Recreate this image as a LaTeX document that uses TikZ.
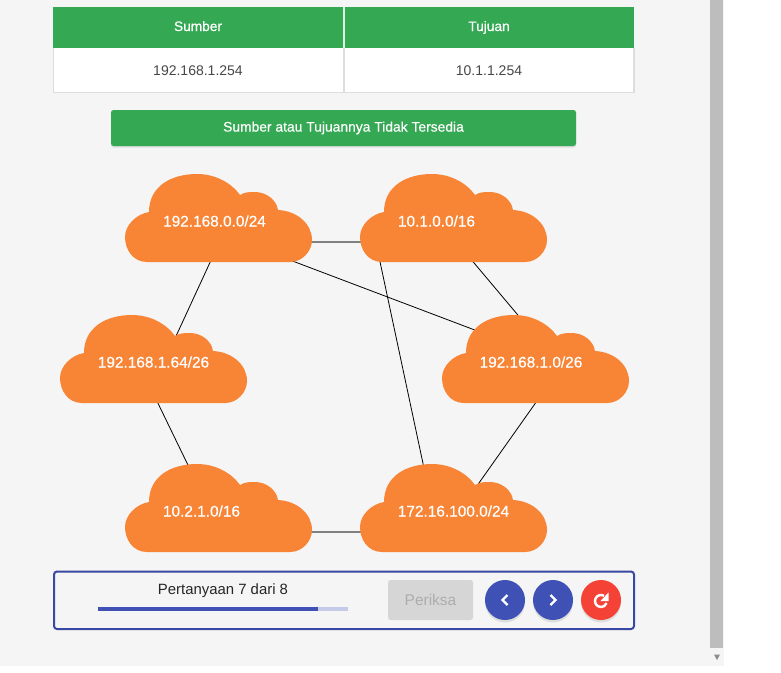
\documentclass[tikz,border=0pt]{standalone}
\usepackage{fontspec}
\setmainfont{Liberation Sans}
\newfontfamily\medfont[RawFeature={embolden=0.5}]{Liberation Sans}
\usetikzlibrary{calc, shadows, backgrounds, arrows.meta}

\definecolor{pagegray}{HTML}{F5F5F5}
\definecolor{headgreen}{HTML}{34A853}
\definecolor{cloudorange}{HTML}{F88435}
\definecolor{indigo}{HTML}{3F51B5}
\definecolor{indigolight}{HTML}{C5CAE9}
\definecolor{alertred}{HTML}{F44336}
\definecolor{rulegray}{HTML}{DDDDDD}
\definecolor{scrollgray}{HTML}{BDBDBD}

\tikzset{
	netcloud/.style={minimum width=187, minimum height=88, inner sep=0, outer sep=0,
		path picture={
			\fill[cloudorange] (-71.5,44) .. controls (-86,44) and (-93.5,31) .. (-93.5,19)
				.. controls (-93.5,7) and (-82,-4) .. (-69.5,-6)
				.. controls (-69.5,-32) and (-47,-44) .. (-21.5,-44)
				.. controls (-3,-44) and (13,-35) .. (21.5,-23)
				.. controls (26,-26) and (31,-26) .. (36.5,-26)
				.. controls (48,-26) and (58,-18) .. (59.5,-8)
				.. controls (79,-7) and (93.5,6) .. (93.5,22)
				.. controls (93.5,33) and (84,44) .. (71.5,44) -- cycle;
		}},
	netlabel/.style={text=white, font=\medfont\fontsize{15.4}{17}\selectfont},
	cloudlink/.style={black, line width=0.8},
	cloudlinkh/.style={black!50, line width=1.6},
	headcell/.style={text=white, text height=10, text depth=3, font=\medfont\fontsize{13.7}{16}\selectfont},
	bodycell/.style={text=black!72, font=\fontsize{14}{16}\selectfont},
	roundbtn/.style={circle, minimum size=40, inner sep=0, drop shadow={opacity=0.2, shadow xshift=0, shadow yshift=2.5}},
}

\begin{document}
\begin{tikzpicture}[x=1pt, y=-1pt]
	\useasboundingbox (0,0) rectangle (781,672);

	% page and scrollbar
	\begin{scope}[on background layer]
		\fill[white] (0,0) rectangle (781,672);
		\fill[pagegray] (0,0) rectangle (724,666);
	\end{scope}
	\fill[scrollgray] (710,0) rectangle (723,648);
	\fill[black!45] (714,654.5) -- (720,654.5) -- (717,660) -- cycle;

	% table
	\fill[white] (53,48) rectangle (634,92);
	\draw[rulegray, line width=1.5] (53.5,48) -- (53.5,92.5) -- (634,92.5) -- (634,48);
	\draw[rulegray, line width=1.5] (344,48) -- (344,92);
	\fill[headgreen] (53,7) rectangle (634,48);
	\draw[white!85!headgreen, line width=1.5] (344,7) -- (344,48);
	\node[headcell] (headsrc) at (198,27.5) {Sumber};
	\node[headcell] (headdst) at (489,27.5) {Tujuan};
	\node[bodycell] (bodysrc) at (198,70.5) {192.168.1.254};
	\node[bodycell] (bodydst) at (489,70.5) {10.1.1.254};

	% status button
	\node[fill=headgreen, rounded corners=2.5, minimum width=465, minimum height=36, inner sep=0,
		drop shadow={opacity=0.2, shadow xshift=0, shadow yshift=1.5},
		text=white, font=\medfont\fontsize{13.85}{16}\selectfont] (status) at (343.5,128) {Sumber atau Tujuannya Tidak Tersedia};

	% clouds
	\node[netcloud, label={[netlabel, xshift=-4, yshift=-3]center:192.168.0.0/24}] (neta) at (218.5,218) {};
	\node[netcloud, label={[netlabel, xshift=-17, yshift=-3]center:10.1.0.0/16}] (netb) at (453.5,218) {};
	\node[netcloud, label={[netlabel, yshift=-3]center:192.168.1.64/26}] (netc) at (153.5,359) {};
	\node[netcloud, label={[netlabel, xshift=-4.5, yshift=-3]center:192.168.1.0/26}] (netd) at (535.5,359) {};
	\node[netcloud, label={[netlabel, xshift=-17, yshift=-3]center:10.2.1.0/16}] (nete) at (218.5,508) {};
	\node[netcloud, label={[netlabel, yshift=-3]center:172.16.100.0/24}] (netf) at (453.5,508) {};

	% links
	\begin{scope}[on background layer]
		\draw[cloudlinkh] ([yshift=-24]neta.center) -- ([yshift=-24]netb.center);
		\draw[cloudlinkh] ([yshift=-24]nete.center) -- ([yshift=-24]netf.center);
		\draw[cloudlink] ([yshift=-26]neta.center) -- ([yshift=-26]netc.center);
		\draw[cloudlink] ([yshift=-35]netc.center) -- ([yshift=-20]nete.center);
		\draw[cloudlink] ([yshift=-15]neta.center) -- ([yshift=6]netd.center);
		\draw[cloudlink] ([yshift=-20.5]netb.center) -- ([yshift=23]netd.center);
		\draw[cloudlink] ([xshift=-77.7,yshift=-24]netb.center) -- ([xshift=-21]netf.center);
		\draw[cloudlink] ([yshift=-44]netd.center) -- ([yshift=-11]netf.center);
	\end{scope}

	% bottom panel
	\draw[indigo!90!black, line width=2, rounded corners=3, fill=pagegray] (54,571.5) rectangle (634,629);
	\node[font=\fontsize{14.9}{16}\selectfont, text=black!85] (question) at (223,590.5) {Pertanyaan 7 dari 8};
	\fill[indigolight] (98,607) rectangle (348,611);
	\fill[indigo] (98,607) rectangle (318,611);
	\node[fill=black!16, rounded corners=2.5, minimum width=85, minimum height=40, inner sep=0,
		text=black!32, font=\fontsize{15.5}{16}\selectfont] (check) at (430.5,600) {Periksa};
	\node[roundbtn, fill=indigo] (prev) at (505,600) {};
	\node[roundbtn, fill=indigo] (next) at (553,600) {};
	\node[roundbtn, fill=alertred] (reset) at (601,600) {};
	\draw[white, line width=2.4, line join=miter] ([xshift=2.5,yshift=5]prev.center) -- ++(-5,5) -- ++(5,5);
	\draw[white, line width=2.4, line join=miter] ([xshift=-2.5,yshift=5]next.center) -- ++(5,5) -- ++(-5,5);
	\draw[white, line width=2.4] ([xshift=3,yshift=4.2]reset.center) arc[start angle=-60, end angle=-340, radius=6];
	\fill[white] (608.5,592.5) -- (608.5,601) -- (600.5,601) -- cycle;
\end{tikzpicture}
\end{document}
